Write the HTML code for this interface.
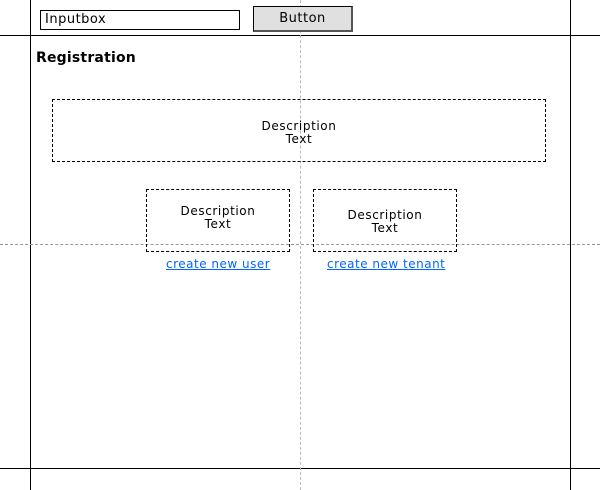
<!DOCTYPE html>
<html><head><style>
body{margin:0;width:600px;height:490px;position:relative;background:#fff;font-family:"DejaVu Sans","Liberation Sans",sans-serif;overflow:hidden}
.a{position:absolute}
.box{position:absolute;border:1px dashed #000;box-sizing:border-box;font-size:12px;letter-spacing:0.6px;text-align:center;line-height:13px;display:flex;align-items:center;justify-content:center}
.lnk{position:absolute;color:#0066ff;text-decoration:underline;font-size:12px;letter-spacing:0.5px}
</style></head><body>
<div class="a" style="left:30px;top:0;width:1px;height:490px;background:#000"></div>
<div class="a" style="left:570px;top:0;width:1px;height:490px;background:#000"></div>
<div class="a" style="left:0;top:35px;width:600px;height:1px;background:#000"></div>
<div class="a" style="left:0;top:468px;width:600px;height:1px;background:#000"></div>
<div class="a" style="left:300px;top:0;width:0;height:490px;border-left:1px dashed #bbb"></div>
<div class="a" style="left:0;top:244px;width:600px;height:0;border-top:1px dashed #999"></div>
<div class="a" style="left:40px;top:10px;width:200px;height:20px;border:1px solid #000;box-sizing:border-box;font-size:13px;letter-spacing:0.5px;line-height:18px;padding-left:4px;background:#fff">Inputbox</div>
<div class="a" style="left:253px;top:6px;width:100px;height:26px;border:1px solid #000;border-right:2px solid #555;border-bottom:2px solid #555;box-sizing:border-box;background:#e0e0e0;font-size:13px;letter-spacing:0.5px;line-height:23px;text-align:center">Button</div>
<div class="a" style="left:36px;top:50px;font-size:14px;font-weight:600;letter-spacing:0.2px">Registration</div>
<div class="box" style="left:52px;top:99px;width:494px;height:63px;padding-top:4px">Description<br>Text</div>
<div class="box" style="left:146px;top:189px;width:144px;height:63px;padding-bottom:6px">Description<br>Text</div>
<div class="box" style="left:313px;top:189px;width:144px;height:63px;padding-top:2px">Description<br>Text</div>
<div class="lnk" style="left:166px;top:257px">create new user</div>
<div class="lnk" style="left:327px;top:257px">create new tenant</div>
</body></html>
